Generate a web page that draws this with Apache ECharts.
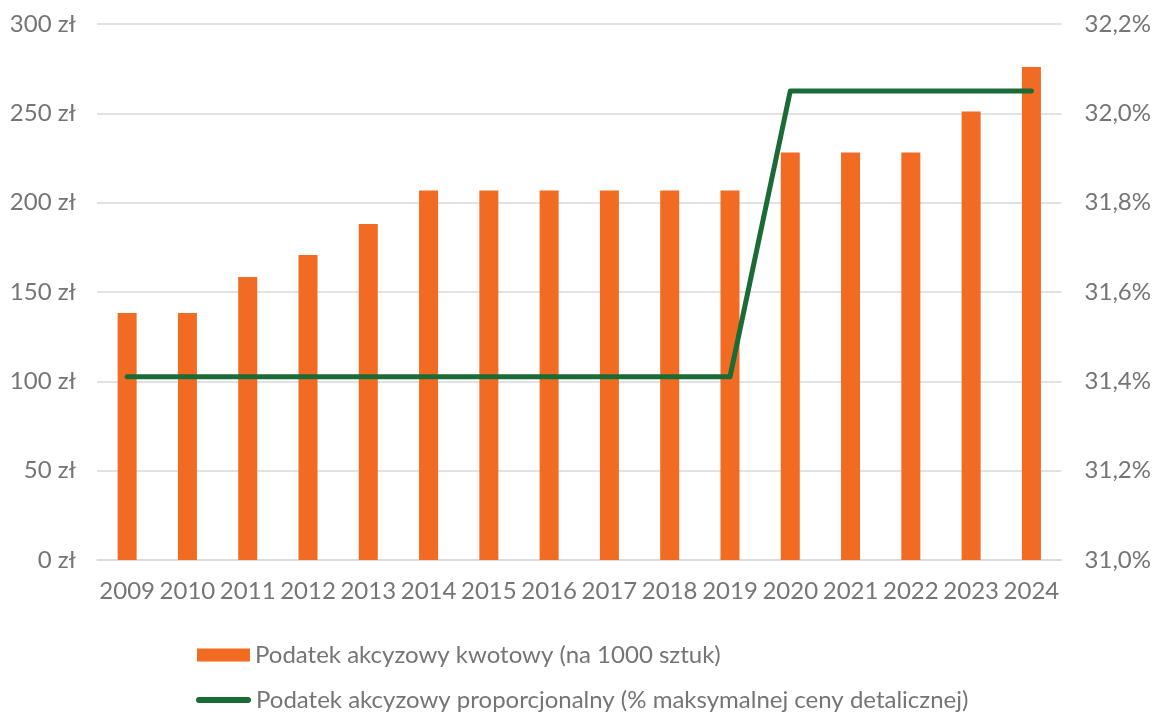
<!DOCTYPE html>
<html>
<head>
<meta charset="utf-8">
<script src="https://cdn.jsdelivr.net/npm/echarts@6/dist/echarts.min.js"></script>
<style>
  html, body { margin: 0; padding: 0; background: #fff; }
  #main { width: 1154px; height: 713px; }
</style>
</head>
<body>
<div id="main"></div>
<script>
var years = ['2009', '2010', '2011', '2012', '2013', '2014', '2015', '2016',
  '2017', '2018', '2019', '2020', '2021', '2022', '2023', '2024'];
// kwota za 1000 sztuk (zł)
var kwotowy = [138.2, 138.2, 158.4, 170.7, 188.0, 206.8, 206.8, 206.8,
  206.8, 206.8, 206.8, 228.1, 228.1, 228.1, 251.0, 276.0];
// % maksymalnej ceny detalicznej
var proporcjonalny = [31.41, 31.41, 31.41, 31.41, 31.41, 31.41, 31.41, 31.41,
  31.41, 31.41, 31.41, 32.05, 32.05, 32.05, 32.05, 32.05];
var names = ['Podatek akcyzowy kwotowy (na 1000 sztuk)',
  'Podatek akcyzowy proporcjonalny (% maksymalnej ceny detalicznej)'];

var textColor = '#757575';
var barColor = '#f26b23';
var lineColor = '#1a6b36';
var legendText = { fontSize: 24, color: textColor, fontFamily: 'Lato' };

var chart = echarts.init(document.getElementById('main'));
var option = {
  animation: false,
  textStyle: { fontFamily: 'Lato', color: textColor },
  grid: { left: 97, right: 92, top: 24, bottom: 153 },
  legend: [
    {
      left: 192, top: 638,
      itemWidth: 53, itemHeight: 13,
      textStyle: legendText,
      data: [{ name: names[0], icon: 'rect' }]
    },
    {
      left: 191, top: 683,
      itemWidth: 55, itemHeight: 6,
      textStyle: legendText,
      data: [{
        name: names[1],
        icon: 'path://M3,0 L52,0 A3,3 0 0 1 52,6 L3,6 A3,3 0 0 1 3,0 Z',
        itemStyle: { color: lineColor }
      }]
    }
  ],
  xAxis: {
    type: 'category',
    data: years,
    axisTick: { show: false },
    axisLine: { lineStyle: { color: '#d9d9d9', width: 1.5 } },
    axisLabel: { fontSize: 24, color: textColor, margin: 19, interval: 0 }
  },
  yAxis: [
    {
      type: 'value',
      min: 0, max: 300, interval: 50,
      axisLabel: {
        fontSize: 24, color: textColor, margin: 21,
        formatter: function (v) { return v + ' zł'; }
      },
      splitLine: { lineStyle: { color: '#d9d9d9', width: 1.5 } }
    },
    {
      type: 'value',
      min: 31.0, max: 32.2, interval: 0.2,
      axisLabel: {
        fontSize: 24, color: textColor, margin: 23,
        formatter: function (v) { return v.toFixed(1).replace('.', ',') + '%'; }
      },
      splitLine: { show: false }
    }
  ],
  series: [
    {
      name: names[0],
      type: 'bar',
      data: kwotowy,
      barWidth: 19,
      itemStyle: { color: barColor }
    },
    {
      name: names[1],
      type: 'line',
      yAxisIndex: 1,
      data: proporcjonalny,
      symbol: 'none',
      lineStyle: { color: lineColor, width: 5, cap: 'round', join: 'round' },
      itemStyle: { color: lineColor }
    }
  ]
};
chart.setOption(option);
</script>
</body>
</html>
